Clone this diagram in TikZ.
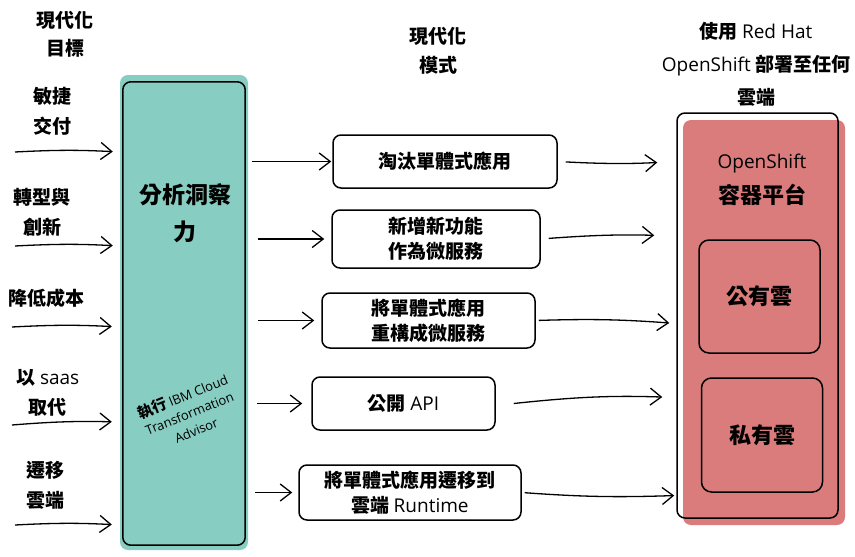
\documentclass[tikz,border=0pt]{standalone}
\usepackage{fontspec}
\setmainfont{Noto Sans CJK TC}
\newfontfamily\hand{Open Sans}
\usetikzlibrary{arrows.meta}

\definecolor{insightTeal}{HTML}{88CDC1}
\definecolor{openRed}{HTML}{D97C7B}

\begin{document}
\begin{tikzpicture}[x=1pt,y=-1pt]
	\useasboundingbox (0,0) rectangle (855,557);
		\begin{scope}
			[
				styleHead/.style={align=center, font=\bfseries\fontsize{19}{#1}\selectfont},
				styleGoal/.style={align=center, font=\bfseries\fontsize{19}{30}\selectfont},
				styleFill/.style={fill=#1, rounded corners=8pt, inner sep=0pt},
				styleBox/.style={draw, line width=1.5pt, rounded corners=8pt, align=center,
					font=\bfseries\fontsize{19}{25}\selectfont},
				styleCloud/.style={draw, line width=1.5pt, rounded corners=10pt,
					minimum width=121pt, minimum height=113pt,
					font=\bfseries\fontsize{22}{26}\selectfont},
				border/.style={draw, line width=1.5pt, rounded corners=8pt},
			]
			% titles
			\node(titleGoal)[styleHead=28] at (65,34) {現代化\\目標};
			\node(titlePattern)[styleHead=29] at (438,51) {現代化\\模式};
			\node(titleCloud)[styleHead=33] at (756,64)
				{使用 {\hand\mdseries Red Hat}\\{\hand\mdseries OpenShift} 部署至任何\\雲端};

			% goals
			\node(goalA)[styleGoal] at (52,111) {敏捷\\交付};
			\node(goalB)[styleGoal] at (42,212) {轉型與\\創新};
			\node(goalC)[styleGoal] at (47,298) {降低成本};
			\node(goalD)[styleGoal] at (48,393) {以 {\hand\mdseries saas}\\取代};
			\node(goalE)[styleGoal] at (46,485) {遷移\\雲端};

			\coordinate(startA) at (15,152);
			\coordinate(startB) at (15,246);
			\coordinate(startC) at (12,327);
			\coordinate(startD) at (12,425);
			\coordinate(startE) at (15,525);

			% analysis column
			\node(col)[styleFill=insightTeal, minimum width=128pt, minimum height=475pt] at (184,312.5) {};
			\draw[border] ([xshift=3pt,yshift=-7pt]col.north west) rectangle ([xshift=-3pt,yshift=5pt]col.south east);
			\node(insight)[font=\bfseries\fontsize{23}{37}\selectfont, align=center] at (185,213) {分析洞察\\力};
			\node(advisor)[rotate=22, align=center, inner sep=0pt, font=\hand\fontsize{13}{18}\selectfont] at (189,412)
				{{\rmfamily\bfseries\fontsize{15}{18}\selectfont 執行} IBM Cloud\\Transformation\\Advisor};

			% patterns
			\node(patA)[styleBox, minimum width=224pt, minimum height=53pt] at (445,161.5) {淘汰單體式應用};
			\node(patB)[styleBox, minimum width=208pt, minimum height=58pt] at (436,239) {新增新功能\\作為微服務};
			\node(patC)[styleBox, minimum width=213pt, minimum height=55pt] at (428.5,320.5) {將單體式應用\\重構成微服務};
			\node(patD)[styleBox, minimum width=183pt, minimum height=53pt] at (403.5,403.5) {公開 {\hand\mdseries API}};
			\node(patE)[styleBox, minimum width=222pt, minimum height=55pt] at (410,492.5) {將單體式應用遷移到\\雲端 {\hand\mdseries Runtime}};

			% openshift platform
			\node(ospFill)[styleFill=openRed, minimum width=162pt, minimum height=405pt] at (764,322.5) {};
			\node(osp)[border, minimum width=161pt, minimum height=405pt] at ([shift={(-6.5,-7)}]ospFill.center) {};
			\node(ospTitle)[align=center, font=\bfseries\fontsize{22}{35}\selectfont] at (762,180)
				{{\hand\mdseries\fontsize{19}{35}\selectfont OpenShift}\\容器平台};
			\node(pub)[styleCloud] at (759.5,296.5) {公有雲};
			\node(priv)[styleCloud, minimum height=114pt] at (762,435) {私有雲};
		\end{scope}

		\begin{scope}
			[ flow/.style = {-{Straight Barb[length=11pt,width=17pt]}, line width=1.3pt},
				>=stealth, auto]
			\path
			(startA) edge[flow, shorten >=7pt, bend left=3]		node{}(startA -| col.west)
			(startB) edge[flow, shorten >=7pt, bend left=3]		node{}(startB -| col.west)
			(startC) edge[flow, shorten >=8pt, bend left=3]		node{}(startC -| col.west)
			(startD) edge[flow, shorten >=8pt, bend left=3]		node{}([yshift=3pt]startD -| col.west)
			(startE) edge[flow, shorten >=8pt, bend left=3]		node{}(startE -| col.west)

			(patA.west -| col.east) edge[flow, shorten <=4pt, shorten >=1pt]	node{}(patA.west)
			(patB.west -| col.east) edge[flow, shorten <=10pt, shorten >=7pt]	node{}(patB.west)
			(patC.west -| col.east) edge[flow, shorten <=10pt, shorten >=7pt]	node{}(patC.west)
			(patD.west -| col.east) edge[flow, shorten <=9pt, shorten >=9pt]	node{}(patD.west)
			(patE.west -| col.east) edge[flow, shorten <=7pt, shorten >=6pt]	node{}(patE.west)

			(patA.east) edge[flow, shorten <=8pt, shorten >=19pt, bend right=3]	node{}(patA.east -| osp.west)
			(patB.east) edge[flow, shorten <=8pt, shorten >=22pt, bend left=3]	node{}([yshift=3pt]patB.east -| osp.west)
			(patC.east) edge[flow, shorten <=3pt, shorten >=7pt, bend left=3]	node{}([yshift=-3pt]patC.east -| osp.west)
			([xshift=18pt]patD.east) edge[flow, shorten >=14pt, bend left=4]	node{}([yshift=6pt]patD.east -| osp.west)
			(patE.east) edge[flow, shorten <=3pt, shorten >=2pt, bend right=3]	node{}([yshift=-3pt]patE.east -| osp.west);
		\end{scope}
	\end{tikzpicture}
\end{document}
